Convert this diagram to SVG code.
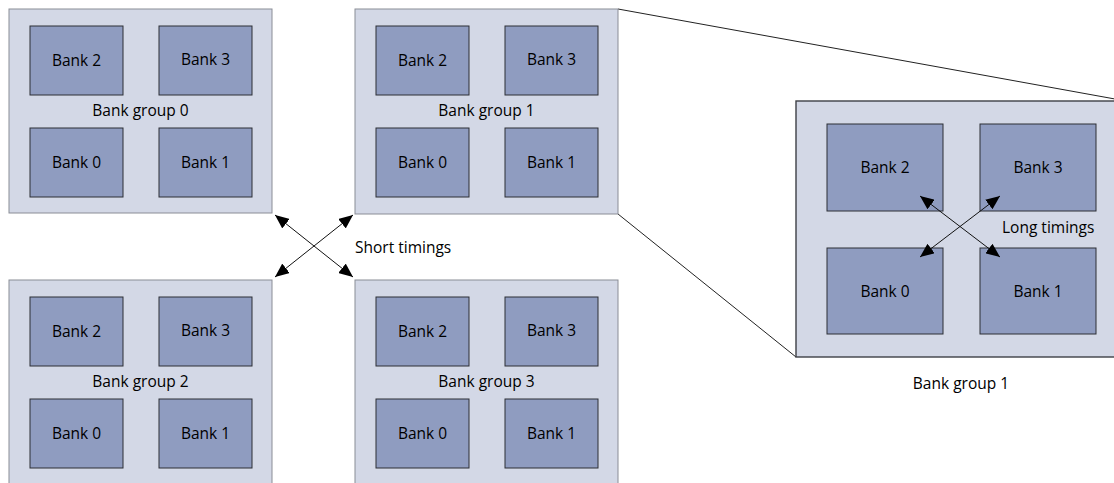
<svg xmlns="http://www.w3.org/2000/svg" width="1114" height="483" viewBox="0 0 1114 483">
  <style>
    .grp { fill: #d3d8e6; stroke: #8a8d96; stroke-width: 1; }
    .grp-big { fill: #d3d8e6; stroke: #3e4046; stroke-width: 1.4; }
    .bank { fill: #8f9cc0; stroke: #2c2e34; stroke-width: 1; }
    text { font-family: "Open Sans", "Noto Sans", "Liberation Sans", sans-serif; font-size: 15.5px; fill: #000; }
    .c { text-anchor: middle; }
    .conn { stroke: #111; stroke-width: 1; fill: none; }
    .zoom { stroke: #222; stroke-width: 1; fill: none; }
  </style>
  <defs>
    <marker id="head" viewBox="0 0 14 12" refX="14" refY="6" markerWidth="14" markerHeight="12" markerUnits="userSpaceOnUse" orient="auto-start-reverse">
      <path d="M0,0 L14,6 L0,12 Z" fill="#000"/>
    </marker>
  </defs>

  <rect width="1114" height="483" fill="#ffffff"/>

  <!-- zoom lines from bank group 1 to its enlarged view -->
  <g id="zoom-lines">
    <line class="zoom" x1="618" y1="9" x2="1126" y2="101"/>
    <line class="zoom" x1="618" y1="214" x2="796" y2="357"/>
  </g>

  <!-- bank group 0 -->
  <g id="bank-group-0">
    <rect class="grp" x="9" y="9" width="263" height="204"/>
    <rect class="bank" x="30" y="26" width="93" height="69"/>
    <text class="c" x="76.5" y="66">Bank 2</text>
    <rect class="bank" x="159" y="26" width="93" height="69"/>
    <text class="c" x="205.5" y="65">Bank 3</text>
    <text class="c" x="140.5" y="116">Bank group 0</text>
    <rect class="bank" x="30" y="128" width="93" height="69"/>
    <text class="c" x="76.5" y="168">Bank 0</text>
    <rect class="bank" x="159" y="128" width="93" height="69"/>
    <text class="c" x="205.5" y="168">Bank 1</text>
  </g>

  <!-- bank group 1 -->
  <g id="bank-group-1">
    <rect class="grp" x="355" y="9" width="263" height="205"/>
    <rect class="bank" x="376" y="26" width="93" height="69"/>
    <text class="c" x="422.5" y="66">Bank 2</text>
    <rect class="bank" x="505" y="26" width="93" height="69"/>
    <text class="c" x="551.5" y="65">Bank 3</text>
    <text class="c" x="486.5" y="116">Bank group 1</text>
    <rect class="bank" x="376" y="128" width="93" height="69"/>
    <text class="c" x="422.5" y="168">Bank 0</text>
    <rect class="bank" x="505" y="128" width="93" height="69"/>
    <text class="c" x="551.5" y="168">Bank 1</text>
  </g>

  <!-- bank group 2 -->
  <g id="bank-group-2">
    <rect class="grp" x="9" y="280" width="263" height="204"/>
    <rect class="bank" x="30" y="297" width="93" height="69"/>
    <text class="c" x="76.5" y="337">Bank 2</text>
    <rect class="bank" x="159" y="297" width="93" height="69"/>
    <text class="c" x="205.5" y="336">Bank 3</text>
    <text class="c" x="140.5" y="387">Bank group 2</text>
    <rect class="bank" x="30" y="399" width="93" height="69"/>
    <text class="c" x="76.5" y="439">Bank 0</text>
    <rect class="bank" x="159" y="399" width="93" height="69"/>
    <text class="c" x="205.5" y="439">Bank 1</text>
  </g>

  <!-- bank group 3 -->
  <g id="bank-group-3">
    <rect class="grp" x="355" y="280" width="263" height="204"/>
    <rect class="bank" x="376" y="297" width="93" height="69"/>
    <text class="c" x="422.5" y="337">Bank 2</text>
    <rect class="bank" x="505" y="297" width="93" height="69"/>
    <text class="c" x="551.5" y="336">Bank 3</text>
    <text class="c" x="486.5" y="387">Bank group 3</text>
    <rect class="bank" x="376" y="399" width="93" height="69"/>
    <text class="c" x="422.5" y="439">Bank 0</text>
    <rect class="bank" x="505" y="399" width="93" height="69"/>
    <text class="c" x="551.5" y="439">Bank 1</text>
  </g>

  <!-- enlarged bank group 1 -->
  <g id="bank-group-1-detail">
    <rect class="grp-big" x="796" y="101" width="330" height="256"/>
    <rect class="bank" x="827" y="124" width="116" height="87"/>
    <text class="c" x="885" y="173">Bank 2</text>
    <rect class="bank" x="980" y="124" width="116" height="87"/>
    <text class="c" x="1038" y="173">Bank 3</text>
    <rect class="bank" x="827" y="248" width="116" height="86"/>
    <text class="c" x="885" y="297">Bank 0</text>
    <rect class="bank" x="980" y="248" width="116" height="86"/>
    <text class="c" x="1038" y="297">Bank 1</text>
    <text class="c" x="961" y="389">Bank group 1</text>
  </g>

  <!-- timing connectors -->
  <g id="connectors">
    <line class="conn" x1="275" y1="215" x2="353" y2="277" marker-start="url(#head)" marker-end="url(#head)"/>
    <line class="conn" x1="353" y1="215" x2="275" y2="277" marker-start="url(#head)" marker-end="url(#head)"/>
    <text x="355" y="253">Short timings</text>
    <line class="conn" x1="920" y1="196" x2="1000" y2="257" marker-start="url(#head)" marker-end="url(#head)"/>
    <line class="conn" x1="1000" y1="196" x2="920" y2="257" marker-start="url(#head)" marker-end="url(#head)"/>
    <text x="1002" y="233">Long timings</text>
  </g>
</svg>
